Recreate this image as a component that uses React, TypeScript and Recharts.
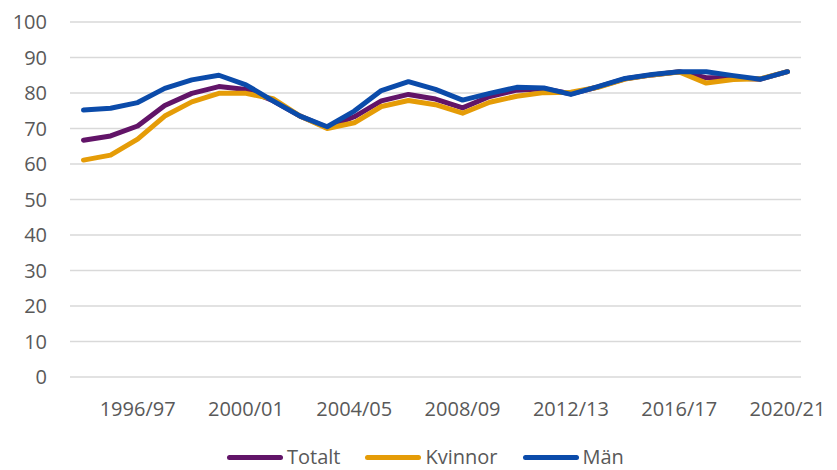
import React from 'react';
import { LineChart, Line, XAxis, YAxis, CartesianGrid, Legend } from 'recharts';

const categories: string[] = [
  '1994/95', '1995/96', '1996/97', '1997/98', '1998/99', '1999/00', '2000/01', '2001/02', '2002/03',
  '2003/04', '2004/05', '2005/06', '2006/07', '2007/08', '2008/09', '2009/10', '2010/11', '2011/12',
  '2012/13', '2013/14', '2014/15', '2015/16', '2016/17', '2017/18', '2018/19', '2019/20', '2020/21',
];

const totalt: number[] = [
  66.7, 67.9, 70.7, 76.5, 79.9, 81.8, 81.0, 77.8, 73.5, 70.3, 73.3, 77.8, 79.6, 78.3,
  75.8, 79.0, 80.8, 81.2, 79.8, 81.7, 84.0, 85.1, 86.0, 84.3, 84.3, 83.9, 86.0,
];

const kvinnor: number[] = [
  61.1, 62.5, 67.0, 73.5, 77.5, 79.9, 79.9, 78.4, 73.5, 70.0, 71.6, 76.2, 77.9, 76.7,
  74.3, 77.4, 79.1, 80.1, 80.2, 81.6, 83.9, 85.1, 85.9, 82.8, 83.8, 84.0, 86.0,
];

const man: number[] = [
  75.2, 75.7, 77.3, 81.3, 83.7, 85.0, 82.3, 77.8, 73.5, 70.5, 74.9, 80.7, 83.2, 81.0,
  78.0, 79.9, 81.6, 81.4, 79.6, 81.8, 84.1, 85.2, 86.0, 86.0, 84.9, 83.9, 86.0,
];

const xTickLabels: string[] = ['1996/97', '2000/01', '2004/05', '2008/09', '2012/13', '2016/17', '2020/21'];
const yTicks: number[] = [0, 10, 20, 30, 40, 50, 60, 70, 80, 90, 100];

const seriesNames = ['Totalt', 'Kvinnor', 'Män'];
const seriesColors = ['#621468', '#E59C07', '#0B4BAA'];

const data = categories.map((c, i) => ({
  year: c,
  Totalt: totalt[i],
  Kvinnor: kvinnor[i],
  'Män': man[i],
}));

const FONT = "'Open Sans', 'DejaVu Sans', sans-serif";
const TEXT_COLOR = '#595959';

const LegendContent = () => (
  <div
    style={{
      display: 'flex',
      alignItems: 'center',
      height: 36,
      boxSizing: 'border-box',
      paddingTop: 8,
      paddingLeft: 227,
      fontFamily: FONT,
      fontSize: 20,
      color: TEXT_COLOR,
    }}
  >
    {seriesNames.map((n, i) => (
      <div key={n} style={{ display: 'flex', alignItems: 'center', marginRight: 25, lineHeight: '27px', height: 27 }}>
        <span
          style={{
            display: 'inline-block',
            width: 56,
            height: 5,
            borderRadius: 3,
            background: seriesColors[i],
            marginRight: 4,
            marginTop: 2,
          }}
        />
        <span>{n}</span>
      </div>
    ))}
  </div>
);

export default function App() {
  return (
    <div style={{ position: 'absolute', left: 0, top: 0, width: 837, height: 470, background: '#fff' }}>
      <LineChart width={837} height={470} data={data} margin={{ top: 22, right: 36, bottom: 0, left: 0 }}>
        <CartesianGrid vertical={false} stroke="#D9D9D9" strokeWidth={1.5} />
        <XAxis
          dataKey="year"
          ticks={xTickLabels}
          interval={0}
          axisLine={false}
          tickLine={false}
          height={57}
          tickMargin={19}
          padding={{ left: 13.5, right: 13.5 }}
          tick={{ fill: TEXT_COLOR, fontSize: 20, fontFamily: FONT }}
        />
        <YAxis
          domain={[0, 100]}
          ticks={yTicks}
          interval={0}
          width={70}
          axisLine={false}
          tickLine={false}
          tickMargin={17}
          tick={{ fill: TEXT_COLOR, fontSize: 20, fontFamily: FONT }}
        />
        <Legend verticalAlign="bottom" height={36} wrapperStyle={{ left: 0, width: 837 }} content={<LegendContent />} />
        {seriesNames.map((n, i) => (
          <Line
            key={n}
            type="linear"
            dataKey={n}
            stroke={seriesColors[i]}
            strokeWidth={5}
            strokeLinecap="round"
            strokeLinejoin="round"
            dot={false}
            activeDot={false}
            isAnimationActive={false}
          />
        ))}
      </LineChart>
    </div>
  );
}
